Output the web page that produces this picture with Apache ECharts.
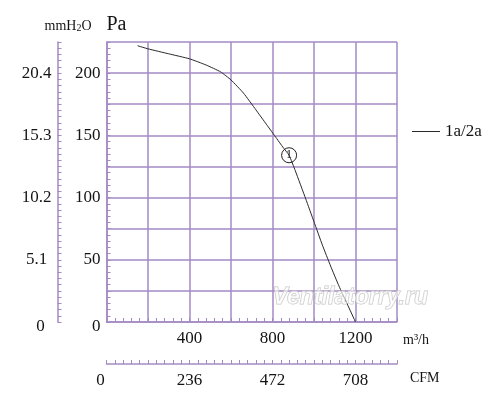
<!DOCTYPE html>
<html><head><meta charset="utf-8">
<script src="https://cdn.jsdelivr.net/npm/echarts@6/dist/echarts.min.js"></script>
<style>html,body{margin:0;padding:0;background:#fff}#c{width:500px;height:402px}</style>
</head><body><div id="c"></div>
<script>
// Fan curve: flow (m³/h) vs static pressure (Pa)
const flowM3h    = [150, 200, 300, 400, 480, 550, 600, 660, 720, 770, 820, 850, 880, 910, 960, 1000, 1040, 1080, 1120, 1160, 1200];
const pressurePa = [222, 219.5, 215.5, 211.5, 206.5, 201, 194.5, 184, 170.5, 159, 147.5, 140.5, 134, 121.5, 99, 80.5, 62, 45, 29, 14.5, 0];
const seriesName = '1a/2a';
const markerPoint = [880, 134];
const markerLabel = '1';
// tick labels
const flowLabelValues = [400, 800, 1200];
const cfmTickFlow = [0, 400, 800, 1200];
const cfmLabels = ['0', '236', '472', '708'];
const paLabelValues = [0, 50, 100, 150, 200];
const mmH2OLabels = ['0', '5.1', '10.2', '15.3', '20.4'];

const purple = '#a48ac4';
const ink = '#141414';
const serif = '"Liberation Serif", "DejaVu Serif", serif';
const lineSt = { color: purple, width: 1.5 };

const chart = echarts.init(document.getElementById('c'), null, { renderer: 'canvas' });
chart.setOption({
  animation: false,
  backgroundColor: '#fff',
  grid: { left: 106.5, right: 103, top: 42, bottom: 80 },
  legend: {
    left: 407, top: 118, itemWidth: 28, itemHeight: 1, icon: 'rect',
    data: [seriesName],
    textStyle: { fontFamily: serif, fontSize: 17, color: ink }
  },
  xAxis: [
    {
      type: 'value', min: 0, max: 1400, interval: 200, position: 'bottom',
      axisLine: { show: true, onZero: false, lineStyle: lineSt },
      axisTick: { show: true, inside: true, length: 4, lineStyle: { color: purple, width: 1 } },
      minorTick: { show: true, splitNumber: 5, length: 4, lineStyle: { color: purple, width: 1 } },
      splitLine: { show: true, lineStyle: lineSt },
      axisLabel: {
        margin: 8, fontFamily: serif, fontSize: 17, color: ink,
        showMinLabel: true, showMaxLabel: true,
        formatter: v => flowLabelValues.includes(v) ? String(v) : ''
      },
      name: 'm³/h', nameLocation: 'end', nameGap: 6,
      nameTextStyle: { fontFamily: serif, fontSize: 14, color: ink, align: 'left', verticalAlign: 'top', padding: [11, 0, 0, 0] }
    },
    {
      type: 'value', min: 0, max: 1400, interval: 200, position: 'bottom', offset: 42,
      axisLine: { show: true, onZero: false, lineStyle: lineSt },
      axisTick: { show: true, inside: true, length: 4, lineStyle: { color: purple, width: 1 } },
      minorTick: { show: true, splitNumber: 5, length: 4, lineStyle: { color: purple, width: 1 } },
      splitLine: { show: false },
      axisLabel: {
        margin: 8, fontFamily: serif, fontSize: 17, color: ink,
        showMinLabel: true,
        formatter: v => { const i = cfmTickFlow.indexOf(v); if (i < 0) return ''; return i === 0 ? '{z|' + cfmLabels[i] + '}' : cfmLabels[i]; },
        rich: { z: { fontFamily: serif, fontSize: 17, color: ink, padding: [0, 12, 0, 0] } }
      },
      name: 'CFM', nameLocation: 'end', nameGap: 13,
      nameTextStyle: { fontFamily: serif, fontSize: 14, color: ink, align: 'left', verticalAlign: 'top', padding: [7, 0, 0, 0] }
    }
  ],
  yAxis: [
    {
      type: 'value', min: 0, max: 225, interval: 25, position: 'left',
      axisLine: { show: true, onZero: false, lineStyle: lineSt },
      axisTick: { show: true, inside: true, length: 4, lineStyle: { color: purple, width: 1 } },
      minorTick: { show: true, splitNumber: 5, length: 4, lineStyle: { color: purple, width: 1 } },
      splitLine: { show: true, lineStyle: lineSt },
      axisLabel: {
        margin: 6, fontFamily: serif, fontSize: 17, color: ink, showMinLabel: true,
        formatter: v => { if (!paLabelValues.includes(v)) return ''; return v === 0 ? '{z|0}' : String(v); },
        rich: { z: { fontFamily: serif, fontSize: 17, color: ink, padding: [10, 0, 0, 0] } }
      },
      name: 'Pa', nameLocation: 'end', nameGap: 17,
      nameTextStyle: { fontFamily: serif, fontSize: 20, color: ink, align: 'left', verticalAlign: 'middle' }
    },
    {
      type: 'value', min: 0, max: 225, interval: 25, position: 'left', offset: 49,
      axisLine: { show: true, onZero: false, lineStyle: lineSt },
      axisTick: { show: true, inside: true, length: 4, lineStyle: { color: purple, width: 1 } },
      minorTick: { show: true, splitNumber: 5, length: 4, lineStyle: { color: purple, width: 1 } },
      splitLine: { show: false },
      axisLabel: {
        margin: 21, align: 'center', fontFamily: serif, fontSize: 17, color: ink, showMinLabel: true,
        formatter: v => { const i = paLabelValues.indexOf(v); if (i < 0) return ''; return i === 0 ? '{z|0}' : mmH2OLabels[i]; },
        rich: { z: { fontFamily: serif, fontSize: 17, color: ink, padding: [10, 0, 0, 8] } }
      },
      name: 'mmH{s|2}O', nameLocation: 'end', nameGap: 16,
      nameTextStyle: {
        fontFamily: serif, fontSize: 14, color: ink, align: 'center', verticalAlign: 'middle', padding: [0, 0, 0, 21],
        rich: {
          s: { fontFamily: serif, fontSize: 10, color: ink, verticalAlign: 'top', padding: [4, 0, 0, 0] }
        }
      }
    }
  ],
  series: [{
    name: seriesName, type: 'line', xAxisIndex: 0, yAxisIndex: 0,
    data: flowM3h.map((q, i) => [q, pressurePa[i]]),
    smooth: 0.15, symbol: 'none', silent: true,
    lineStyle: { color: '#2a2a2a', width: 1 },
    itemStyle: { color: '#2a2a2a' },
    markPoint: {
      symbol: 'circle', symbolSize: 15, silent: true,
      itemStyle: { color: 'rgba(255,255,255,0)', borderColor: '#222', borderWidth: 1 },
      label: { show: true, position: 'inside', formatter: markerLabel, color: '#222', fontFamily: serif, fontSize: 12 },
      data: [{ coord: markerPoint }]
    }
  }],
  graphic: [{
    type: 'text', left: 272, top: 286, z: 100, silent: true,
    style: { text: 'Ventilatorry.ru', font: 'italic bold 23px "Liberation Sans", Arial, sans-serif', fill: 'rgba(255,255,255,0.55)', stroke: '#c6c6c6', lineWidth: 1 }
  }]
});
</script></body></html>
